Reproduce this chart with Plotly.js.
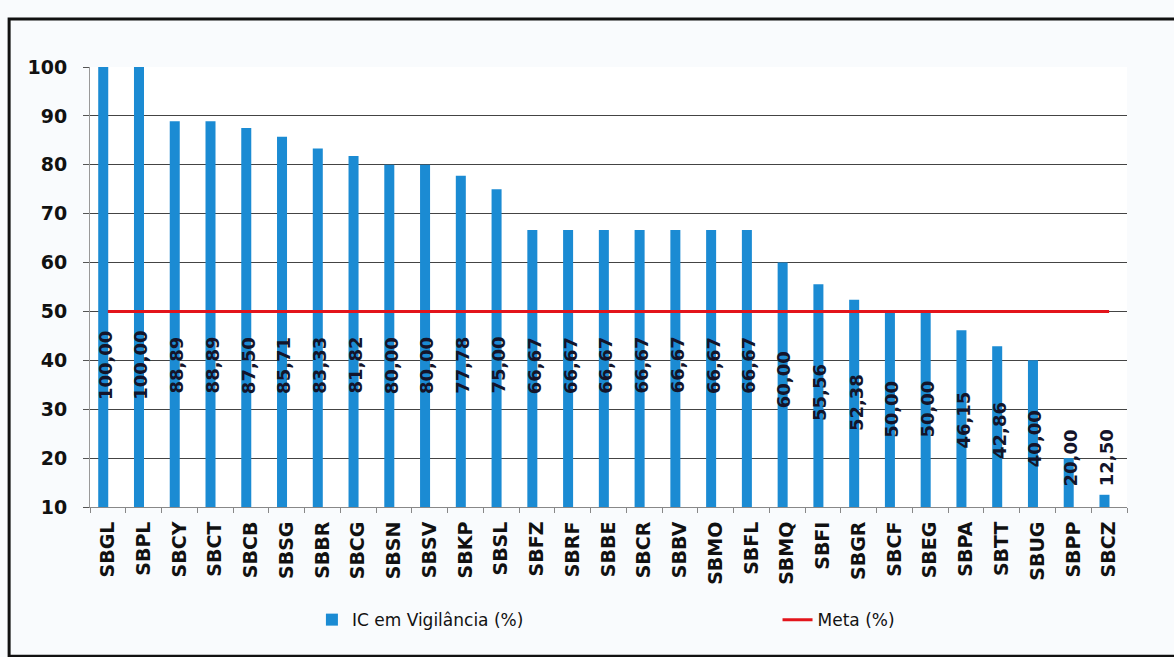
<!DOCTYPE html>
<html>
<head>
<meta charset="utf-8">
<script src="https://cdn.plot.ly/plotly-3.0.1.min.js"></script>
<style>
  html, body { margin: 0; padding: 0; background: #f9fbfd; }
  #chart { width: 1174px; height: 657px; }
</style>
</head>
<body>
<div id="chart"></div>
<script>
// ---- Data ----
const airports = ["SBGL","SBPL","SBCY","SBCT","SBCB","SBSG","SBBR","SBCG","SBSN","SBSV",
                  "SBKP","SBSL","SBFZ","SBRF","SBBE","SBCR","SBBV","SBMO","SBFL","SBMQ",
                  "SBFI","SBGR","SBCF","SBEG","SBPA","SBTT","SBUG","SBPP","SBCZ"];
const icVigilancia = [100.00,100.00,88.89,88.89,87.50,85.71,83.33,81.82,80.00,80.00,
                      77.78,75.00,66.67,66.67,66.67,66.67,66.67,66.67,66.67,60.00,
                      55.56,52.38,50.00,50.00,46.15,42.86,40.00,20.00,12.50];
const meta = [50,50,50,50,50,50,50,50,50,50,50,50,50,50,50,50,50,50,50,50,50,50,50,50,50,50,50,50,50];
const yTicks = [10,20,30,40,50,60,70,80,90,100];

// ---- Styling ----
const FONT = "'DejaVu Sans', Verdana, sans-serif";
const BLUE = "#1b8bd3";
const RED = "#e3141b";
const AXIS_MIN = 10;

const fmt = v => v.toFixed(2).replace(".", ",");

const traces = [
  {
    type: "bar",
    name: "IC em Vigilância (%)",
    legend: "legend",
    x: airports,
    y: icVigilancia.map(v => v - AXIS_MIN),
    base: AXIS_MIN,
    customdata: icVigilancia,
    hovertemplate: "%{x}: %{customdata}<extra></extra>",
    marker: { color: BLUE },
    width: 0.28,
    offset: -0.27
  },
  {
    type: "scatter",
    mode: "lines",
    name: "Meta (%)",
    legend: "legend2",
    x: airports,
    y: meta,
    line: { color: RED, width: 3 }
  }
];

const annotations = airports.map((a, i) => {
  const v = icVigilancia[i];
  const ly = Math.max(20, Math.min(39, 0.6 * v));
  return {
    x: a, y: ly, xref: "x", yref: "y",
    text: fmt(v),
    textangle: -90,
    showarrow: false,
    xshift: -3,
    font: { family: FONT, size: 18, color: "#14142a", weight: "bold" }
  };
});

const legendFont = { family: FONT, size: 17, color: "#111111" };

const layout = {
  width: 1174,
  height: 657,
  margin: { l: 90, r: 47, t: 67, b: 150 },
  paper_bgcolor: "#f9fbfd",
  plot_bgcolor: "#ffffff",
  font: { family: FONT, color: "#111111" },
  showlegend: true,
  legend: {
    orientation: "h",
    x: 0.214, xanchor: "left",
    y: -0.257, yanchor: "middle",
    bgcolor: "rgba(0,0,0,0)",
    font: legendFont
  },
  legend2: {
    orientation: "h",
    x: 0.663, xanchor: "left",
    y: -0.257, yanchor: "middle",
    bgcolor: "rgba(0,0,0,0)",
    font: legendFont
  },
  xaxis: {
    type: "category",
    tickangle: -90,
    tickson: "boundaries",
    ticks: "outside",
    ticklen: 5,
    tickcolor: "#888888",
    ticklabelstandoff: 6,
    showline: true,
    linecolor: "#888888",
    linewidth: 1,
    showgrid: false,
    tickfont: { family: FONT, size: 19, color: "#111111", weight: "bold" },
    range: [-0.5, airports.length - 0.5]
  },
  yaxis: {
    range: [AXIS_MIN, 100],
    tickvals: yTicks,
    ticktext: yTicks.map(String),
    ticks: "outside",
    ticklen: 6,
    tickcolor: "#555555",
    ticklabelstandoff: 12,
    showline: true,
    linecolor: "#999999",
    linewidth: 1,
    showgrid: true,
    gridcolor: "#444444",
    gridwidth: 1,
    zeroline: false,
    tickfont: { family: FONT, size: 19, color: "#111111", weight: "bold" }
  },
  annotations: annotations,
  shapes: [
    {
      type: "rect", xref: "paper", yref: "paper",
      x0: -0.078, x1: 1.06, y0: -0.339, y1: 1.109,
      line: { color: "#111111", width: 3 },
      fillcolor: "rgba(0,0,0,0)",
      layer: "above"
    }
  ],
  bargap: 0.72
};

Plotly.newPlot("chart", traces, layout, { displayModeBar: false, staticPlot: true });
</script>
</body>
</html>
